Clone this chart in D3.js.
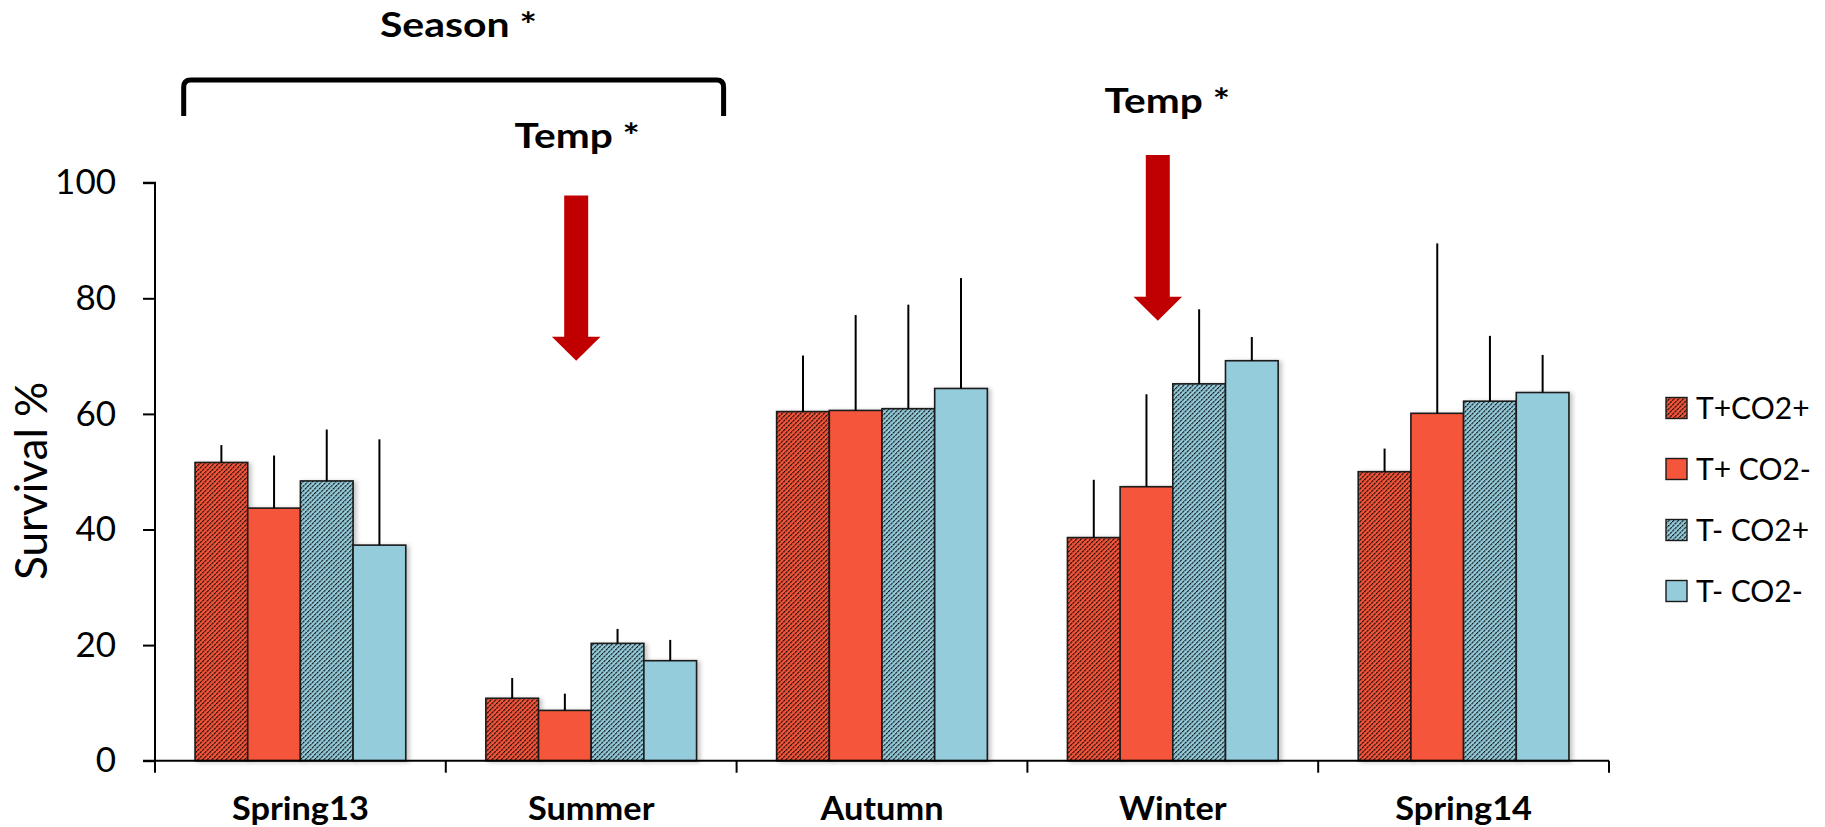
<!DOCTYPE html>
<html>
<head>
<meta charset="utf-8">
<script src="https://cdn.jsdelivr.net/npm/d3@7"></script>
<style>
  html, body { margin: 0; padding: 0; background: #fff; }
  svg { display: block; font-family: Lato, "Open Sans", sans-serif; }
</style>
</head>
<body>
<svg id="chart" width="1825" height="827"></svg>
<script>
// ---- data ----
const categories = ["Spring13", "Summer", "Autumn", "Winter", "Spring14"];
const seriesNames = ["T+CO2+", "T+ CO2-", "T- CO2+", "T- CO2-"];
const tPlusCO2Plus   = [51.6, 10.8, 60.4, 38.6, 50.0];
const tPlusCO2Minus  = [43.7,  8.7, 60.6, 47.4, 60.1];
const tMinusCO2Plus  = [48.4, 20.3, 60.9, 65.2, 62.2];
const tMinusCO2Minus = [37.3, 17.3, 64.4, 69.2, 63.7];
const errTPlusCO2Plus   = [ 3.0, 3.5,  9.7, 10.0,  4.0];
const errTPlusCO2Minus  = [ 9.1, 2.9, 16.5, 16.0, 29.4];
const errTMinusCO2Plus  = [ 8.9, 2.5, 18.0, 12.9, 11.3];
const errTMinusCO2Minus = [18.3, 3.6, 19.1,  4.1,  6.5];
const yTicks = [0, 20, 40, 60, 80, 100];
const yLabel = "Survival %";
const bracketLabel = "Season *";
const bracketCategories = ["Spring13", "Summer"];
const arrowCategories = ["Summer", "Winter"];
const arrowLabel = "Temp *";

const seriesValues = [tPlusCO2Plus, tPlusCO2Minus, tMinusCO2Plus, tMinusCO2Minus];
const seriesErrors = [errTPlusCO2Plus, errTPlusCO2Minus, errTMinusCO2Plus, errTMinusCO2Minus];
const seriesFill = ["#F5553A", "#F5553A", "#95CCDC", "#95CCDC"];
const seriesHatch = [true, false, true, false];

// ---- layout ----
const svg = d3.select("#chart");
const x0 = 155, x1 = 1609, yTop = 182.7, yBot = 760.7;

const x = d3.scaleBand().domain(categories).range([x0, x1]).paddingInner(0).paddingOuter(0);
const xs = d3.scaleBand().domain(seriesNames).range([0, x.bandwidth()]).paddingInner(0).paddingOuter(0.76);
const y = d3.scaleLinear().domain([0, 100]).range([yBot, yTop]);

function stretch(sel, f) {
  sel.each(function () {
    const w = this.getComputedTextLength();
    d3.select(this).attr("textLength", w * f).attr("lengthAdjust", "spacingAndGlyphs");
  });
}

const defs = svg.append("defs");
seriesNames.forEach((s, i) => {
  if (!seriesHatch[i]) return;
  const P = 3.3;
  const p = defs.append("pattern")
    .attr("id", "hatch" + i)
    .attr("patternUnits", "userSpaceOnUse")
    .attr("width", P).attr("height", P)
    .attr("patternTransform", "rotate(45)");
  p.append("rect").attr("width", P).attr("height", P).attr("fill", seriesFill[i]);
  p.append("line").attr("x1", 0.6).attr("y1", 0).attr("x2", 0.6).attr("y2", P)
    .attr("stroke", "#000").attr("stroke-width", 1.0)
    .attr("stroke-dasharray", "1.6 0.7");
});
const shadow = defs.append("filter").attr("id", "shadow")
  .attr("x", "-20%").attr("y", "-20%").attr("width", "140%").attr("height", "140%");
shadow.append("feDropShadow").attr("dx", 3).attr("dy", 1).attr("stdDeviation", 2)
  .attr("flood-color", "#000").attr("flood-opacity", 0.22);

// ---- bars ----
const barData = [];
categories.forEach((c, ci) => {
  seriesNames.forEach((s, si) => {
    barData.push({ c, s, si, v: seriesValues[si][ci], e: seriesErrors[si][ci] });
  });
});

const gBars = svg.append("g");
gBars.selectAll("rect.bar").data(barData).enter().append("rect")
  .attr("class", "bar")
  .attr("x", d => x(d.c) + xs(d.s))
  .attr("y", d => y(d.v))
  .attr("width", xs.bandwidth())
  .attr("height", d => y(0) - y(d.v))
  .attr("fill", d => seriesHatch[d.si] ? `url(#hatch${d.si})` : seriesFill[d.si])
  .attr("stroke", "#1a1a1a")
  .attr("stroke-width", 1.6)
  .attr("filter", "url(#shadow)");

// error bars (upper only)
gBars.selectAll("line.err").data(barData).enter().append("line")
  .attr("class", "err")
  .attr("x1", d => x(d.c) + xs(d.s) + xs.bandwidth() / 2)
  .attr("x2", d => x(d.c) + xs(d.s) + xs.bandwidth() / 2)
  .attr("y1", d => y(d.v))
  .attr("y2", d => y(d.v + d.e))
  .attr("stroke", "#000")
  .attr("stroke-width", 2);

// ---- axes ----
const yAxis = d3.axisLeft(y).tickValues(yTicks).tickSize(12).tickPadding(27);
const gy = svg.append("g").attr("transform", `translate(${x0},0)`).call(yAxis);
gy.select(".domain").attr("stroke", "#000").attr("stroke-width", 2)
  .attr("d", `M-12,${yTop}H0V${yBot}`);
gy.selectAll(".tick line").attr("stroke", "#000").attr("stroke-width", 2);
gy.selectAll(".tick text").attr("font-size", 35).attr("fill", "#000")
  .attr("font-family", "Lato, sans-serif");

// x-axis line and boundary ticks
const gx = svg.append("g");
gx.append("line").attr("x1", x0 - 12).attr("x2", x1).attr("y1", yBot).attr("y2", yBot)
  .attr("stroke", "#000").attr("stroke-width", 2);
const boundaries = categories.map(c => x(c)).concat([x(categories[categories.length - 1]) + x.bandwidth()]);
gx.selectAll("line.xt").data(boundaries).enter().append("line")
  .attr("class", "xt")
  .attr("x1", d => d).attr("x2", d => d)
  .attr("y1", yBot).attr("y2", yBot + 12)
  .attr("stroke", "#000").attr("stroke-width", 2);
gx.selectAll("text.xl").data(categories).enter().append("text")
  .attr("class", "xl")
  .attr("x", d => x(d) + x.bandwidth() / 2)
  .attr("y", 820)
  .attr("text-anchor", "middle")
  .attr("font-weight", 700)
  .attr("font-size", 31.5)
  .text(d => d)
  .call(stretch, 1.09);

// y title
svg.append("text")
  .attr("transform", `translate(46.7,480.8) rotate(-90)`)
  .attr("text-anchor", "middle")
  .attr("font-size", 44)
  .text(yLabel);

// ---- legend ----
const gl = svg.append("g");
seriesNames.forEach((s, i) => {
  const cy = 408 + i * 61;
  gl.append("rect").attr("x", 1666).attr("y", cy - 10.5).attr("width", 21).attr("height", 21)
    .attr("fill", seriesHatch[i] ? `url(#hatch${i})` : seriesFill[i])
    .attr("stroke", "#1a1a1a").attr("stroke-width", 1.4);
  gl.append("text").attr("x", 1696).attr("y", cy + 11).attr("font-size", 30).text(s);
});

// ---- annotations ----
// bracket over Spring13 + Summer
const bL = x(bracketCategories[0]) + 28.7;
const bR = x(bracketCategories[1]) + x.bandwidth() - 13;
const bTop = 80, bBottom = 116, r = 7;
svg.append("path")
  .attr("d", `M${bL},${bBottom}V${bTop + r}Q${bL},${bTop} ${bL + r},${bTop}H${bR - r}Q${bR},${bTop} ${bR},${bTop + r}V${bBottom}`)
  .attr("fill", "none").attr("stroke", "#000").attr("stroke-width", 5);
svg.append("text")
  .attr("x", 458.5).attr("y", 36.7)
  .attr("text-anchor", "middle").attr("font-weight", 700).attr("font-size", 35)
  .text(bracketLabel)
  .call(stretch, 1.17);

// arrows: shaft top value, tip value, label baseline, label center offset
const arrowSpecs = [
  { top: 97.8, tip: 69.2, labelY: 148.3, labelDx: -14 },
  { top: 104.8, tip: 76.1, labelY: 113.3, labelDx: -5.5 }
];
arrowCategories.forEach((c, i) => {
  const sp = arrowSpecs[i];
  const cx = x(c) + x.bandwidth() / 2 - 15;
  const yT = y(sp.top), yTip = y(sp.tip), headH = 24, sw = 12, hw = 24.3;
  svg.append("path")
    .attr("d", `M${cx - sw},${yT}H${cx + sw}V${yTip - headH}H${cx + hw}L${cx},${yTip}L${cx - hw},${yTip - headH}H${cx - sw}Z`)
    .attr("fill", "#C00000");
  svg.append("text")
    .attr("x", x(c) + x.bandwidth() / 2 + sp.labelDx).attr("y", sp.labelY)
    .attr("text-anchor", "middle").attr("font-weight", 700).attr("font-size", 35)
    .text(arrowLabel)
    .call(stretch, 1.16);
});
</script>
</body>
</html>
